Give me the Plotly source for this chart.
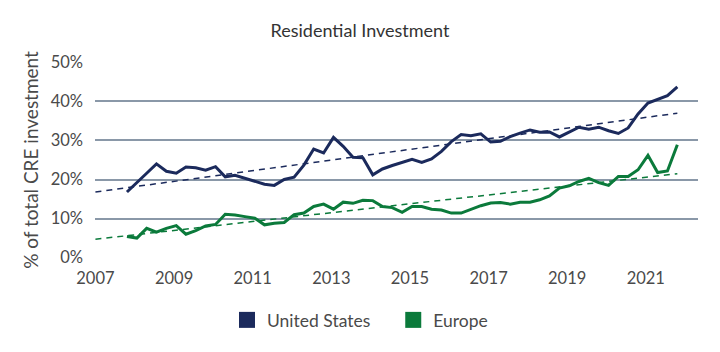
import pandas as pd
import plotly.graph_objects as go

# Quarterly observations, 2007 Q4 .. 2021 Q4
quarters = pd.date_range("2007-10-01", periods=57, freq="QS") + pd.Timedelta(days=20)

us_values = [16.8, 19.1, 21.6, 24.0, 22.1, 21.6, 23.2, 23.0, 22.4, 23.3,
             20.7, 21.1, 20.3, 19.4, 18.8, 18.5, 20.0, 20.6, 23.7, 27.8,
             26.8, 30.8, 28.5, 25.7, 25.6, 21.2, 22.7, 23.6, 24.4, 25.2,
             24.4, 25.3, 27.2, 29.7, 31.5, 31.2, 31.7, 29.6, 29.8, 31.0,
             31.9, 32.7, 32.1, 32.2, 30.9, 32.2, 33.4, 32.9, 33.4, 32.5,
             31.8, 33.2, 36.8, 39.6, 40.6, 41.5, 43.7]

eu_values = [5.4, 5.0, 7.5, 6.5, 7.5, 8.2, 6.0, 6.9, 8.1, 8.5,
             11.1, 10.9, 10.5, 10.1, 8.4, 8.8, 9.0, 11.0, 11.4, 13.1,
             13.7, 12.4, 14.2, 13.9, 14.7, 14.6, 13.1, 12.8, 11.6, 13.1,
             13.1, 12.4, 12.2, 11.4, 11.4, 12.4, 13.3, 14.0, 14.1, 13.7,
             14.2, 14.2, 14.8, 15.8, 17.8, 18.4, 19.5, 20.3, 19.2, 18.5,
             20.8, 20.8, 22.5, 26.2, 21.8, 22.2, 28.9]

# Linear trend lines (endpoints)
trend_dates = ["2007-01-01", str(quarters[-1].date())]
us_trend = [16.8, 37.0]
eu_trend = [4.7, 21.5]

series_names = ["United States", "Europe"]
colors = ["#1b2a5c", "#0b7a3b"]

y_ticks = [0, 10, 20, 30, 40, 50]
y_tick_labels = ["0%", "10%", "20%", "30%", "40%", "50%"]
x_ticks = ["2007-01-01", "2009-01-01", "2011-01-01", "2013-01-01",
           "2015-01-01", "2017-01-01", "2019-01-01", "2021-01-01"]
x_tick_labels = ["2007", "2009", "2011", "2013", "2015", "2017", "2019", "2021"]

fig = go.Figure()

for trend, col in [(us_trend, colors[0]), (eu_trend, colors[1])]:
    fig.add_trace(go.Scatter(x=trend_dates, y=trend, mode="lines",
                             line=dict(color=col, width=1.5, dash="6px,5px"),
                             showlegend=False, hoverinfo="skip"))

for vals, col in [(us_values, colors[0]), (eu_values, colors[1])]:
    fig.add_trace(go.Scatter(x=quarters, y=vals, mode="lines",
                             line=dict(color=col, width=3),
                             showlegend=False))

# legend entries (square swatches)
pad = "\u00a0" * 4
for name, col in zip(series_names, colors):
    fig.add_trace(go.Scatter(x=[None], y=[None], mode="markers",
                             name=name + (pad if name == series_names[0] else ""),
                             marker=dict(symbol="square", size=22, color=col)))

font_family = "Lato, 'Open Sans', sans-serif"
txt = "#4a4a4a"
fig.update_layout(
    width=720, height=352,
    margin=dict(l=95, r=22, t=62, b=94, autoexpand=False),
    paper_bgcolor="white", plot_bgcolor="white",
    font=dict(family=font_family, color=txt, size=16),
    title=dict(text="Residential Investment", x=0.5, xanchor="center",
               y=1 - 31 / 352, yanchor="middle",
               font=dict(size=18, color="#333333", family=font_family)),
    showlegend=True,
    legend=dict(orientation="h", x=0.5, xanchor="center", xref="container",
                y=1 - 320 / 352, yref="container", yanchor="middle",
                font=dict(size=17.5, color=txt),
                itemsizing="trace", traceorder="normal", itemwidth=30),
    xaxis=dict(range=["2006-12-28", "2022-05-01"], tickvals=x_ticks,
               ticktext=x_tick_labels, showgrid=False, zeroline=False,
               showline=False, ticks="", ticklabelstandoff=8,
               tickfont=dict(size=16.5, color=txt)),
    yaxis=dict(range=[-0.1, 50.1], tickvals=y_ticks, ticktext=y_tick_labels,
               showgrid=True, gridcolor="#8a98a8", gridwidth=1.5,
               zeroline=False, showline=False, ticks="",
               ticklabelstandoff=11,
               tickfont=dict(size=16.5, color=txt),
               title=dict(text="% of total CRE investment", standoff=6,
                          font=dict(size=19, color=txt))),
)

fig.write_html("out.html")
